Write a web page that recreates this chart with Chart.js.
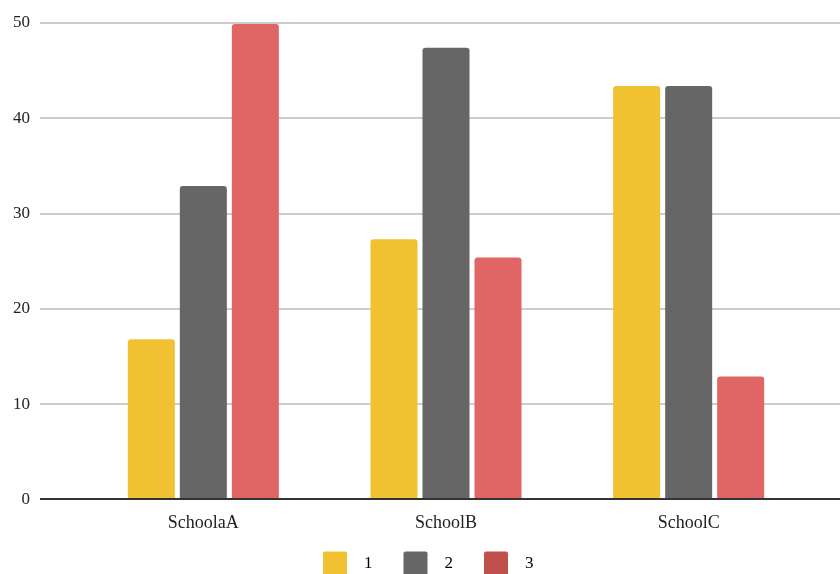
<!DOCTYPE html>
<html>
<head>
<meta charset="utf-8">
<script src="https://cdn.jsdelivr.net/npm/chart.js@4/dist/chart.umd.min.js"></script>
<style>
  html, body { margin: 0; padding: 0; background: #fff; }
  #wrap { width: 840px; height: 574px; }
</style>
</head>
<body>
<div id="wrap"><canvas id="c"></canvas></div>
<script>
// Scores per school for each of the three groups
const schools = ['SchoolaA', 'SchoolB', 'SchoolC'];
const seriesNames = ['1', '2', '3'];
const group1 = [16.8, 27.3, 43.4];
const group2 = [32.9, 47.4, 43.4];
const group3 = [49.9, 25.4, 12.9];
const yTicks = [0, 10, 20, 30, 40, 50];

const barColors = ['#F0C232', '#666666', '#E06666'];
const legendColors = ['#F0C232', '#666666', '#C0504D'];
const FONT = '"Liberation Serif", "Times New Roman", serif';

// Horizontal guide lines spanning the full width, plus the dark baseline at 0
const fullWidthGrid = {
  id: 'fullWidthGrid',
  beforeDatasetsDraw(chart) {
    const { ctx } = chart;
    const y = chart.scales.y;
    ctx.save();
    ctx.strokeStyle = '#cccccc';
    ctx.lineWidth = 2;
    yTicks.forEach(v => {
      if (v === 0) return;
      const py = Math.round(y.getPixelForValue(v));
      ctx.beginPath();
      ctx.moveTo(40, py);
      ctx.lineTo(chart.width, py);
      ctx.stroke();
    });
    ctx.restore();
  },
  afterDatasetsDraw(chart) {
    const { ctx } = chart;
    const py = Math.round(chart.scales.y.getPixelForValue(0));
    ctx.save();
    ctx.strokeStyle = '#333333';
    ctx.lineWidth = 2;
    ctx.beginPath();
    ctx.moveTo(40, py);
    ctx.lineTo(chart.width, py);
    ctx.stroke();
    ctx.restore();
  }
};

// Place the legend row a fixed distance below the plot, starting under the first group
const legendPlacement = {
  id: 'legendPlacement',
  afterLayout(chart) {
    const lg = chart.legend;
    if (!lg) return;
    lg.top = chart.chartArea.bottom + 21;
    lg.bottom = chart.height;
    lg.height = lg.bottom - lg.top;
    lg.left = 292;
    lg.right = chart.width;
    lg.width = lg.right - lg.left;
  }
};

const data = {
  labels: schools,
  datasets: [group1, group2, group3].map((vals, i) => ({
    label: seriesNames[i],
    data: vals,
    backgroundColor: barColors[i],
    borderWidth: 0,
    borderRadius: { topLeft: 3, topRight: 3, bottomLeft: 0, bottomRight: 0 },
    borderSkipped: false,
    categoryPercentage: 0.643,
    barPercentage: 0.904
  }))
};

new Chart(document.getElementById('c'), {
  type: 'bar',
  data,
  plugins: [fullWidthGrid, legendPlacement],
  options: {
    responsive: true,
    maintainAspectRatio: false,
    animation: false,
    layout: { padding: { top: 23, right: 30, left: 0, bottom: 0 } },
    scales: {
      x: {
        grid: { display: false, drawTicks: false },
        border: { display: false },
        ticks: { color: '#222', font: { family: FONT, size: 18 }, padding: 13 }
      },
      y: {
        min: 0,
        max: 50,
        afterBuildTicks: s => { s.ticks = yTicks.map(v => ({ value: v })); },
        afterFit: s => { s.width = 82; },
        grid: { display: false, drawTicks: true, tickLength: 44 },
        border: { display: false },
        ticks: { color: '#222', font: { family: FONT, size: 17 }, padding: 8 }
      }
    },
    plugins: {
      tooltip: { enabled: false },
      legend: {
        position: 'bottom',
        align: 'start',
        maxHeight: 27,
        labels: {
          color: '#222',
          font: { family: FONT, size: 17 },
          boxWidth: 24,
          boxHeight: 24,
          padding: 31,
          generateLabels: chart => chart.data.datasets.map((ds, i) => ({
            text: '  ' + ds.label,
            fillStyle: legendColors[i],
            strokeStyle: legendColors[i],
            lineWidth: 0,
            borderRadius: 2,
            datasetIndex: i,
            hidden: false
          }))
        }
      }
    }
  }
});
</script>
</body>
</html>
